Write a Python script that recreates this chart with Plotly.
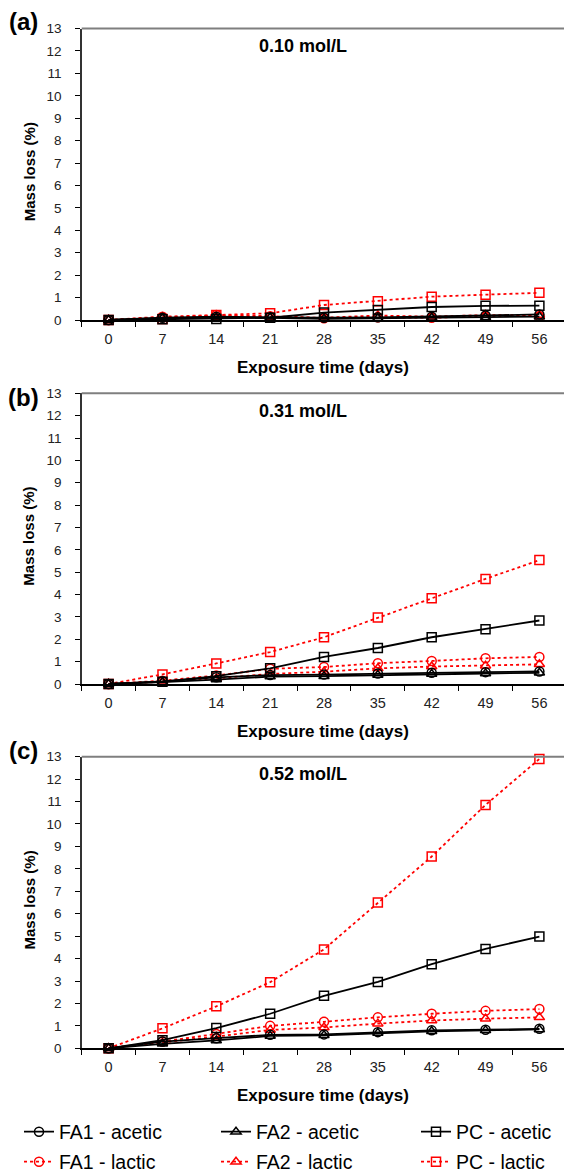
import plotly.graph_objects as go

days = [0, 7, 14, 21, 28, 35, 42, 49, 56]
panels = ["(a)", "(b)", "(c)"]
concentrations = ["0.10 mol/L", "0.31 mol/L", "0.52 mol/L"]
series_names = ["FA1 - acetic", "FA2 - acetic", "PC - acetic",
                "FA1 - lactic", "FA2 - lactic", "PC - lactic"]

# Panel (a) 0.10 mol/L
a_fa1_acetic = [0, 0.10, 0.15, 0.12, 0.10, 0.12, 0.15, 0.20, 0.25]
a_fa2_acetic = [0, 0.08, 0.10, 0.10, 0.05, 0.08, 0.10, 0.12, 0.15]
a_pc_acetic = [0, 0.03, 0.04, 0.10, 0.33, 0.45, 0.58, 0.63, 0.64]
a_fa1_lactic = [0, 0.15, 0.22, 0.17, 0.08, 0.12, 0.10, 0.17, 0.17]
a_fa2_lactic = [0, 0.12, 0.18, 0.15, 0.10, 0.20, 0.15, 0.22, 0.22]
a_pc_lactic = [0, 0.05, 0.22, 0.30, 0.67, 0.84, 1.04, 1.13, 1.21]

# Panel (b) 0.31 mol/L
b_fa1_acetic = [0, 0.12, 0.30, 0.40, 0.42, 0.47, 0.50, 0.53, 0.56]
b_fa2_acetic = [0, 0.08, 0.20, 0.33, 0.35, 0.40, 0.45, 0.47, 0.50]
b_pc_acetic = [0, 0.10, 0.35, 0.70, 1.21, 1.61, 2.09, 2.45, 2.84]
b_fa1_lactic = [0, 0.15, 0.38, 0.68, 0.76, 0.93, 1.03, 1.15, 1.21]
b_fa2_lactic = [0, 0.10, 0.25, 0.45, 0.55, 0.70, 0.78, 0.82, 0.88]
b_pc_lactic = [0, 0.43, 0.92, 1.43, 2.09, 2.97, 3.84, 4.70, 5.54]

# Panel (c) 0.52 mol/L
c_fa1_acetic = [0, 0.30, 0.45, 0.60, 0.62, 0.72, 0.80, 0.83, 0.87]
c_fa2_acetic = [0, 0.20, 0.35, 0.55, 0.58, 0.68, 0.76, 0.80, 0.84]
c_pc_acetic = [0, 0.36, 0.90, 1.54, 2.34, 2.96, 3.75, 4.43, 4.98]
c_fa1_lactic = [0, 0.30, 0.64, 1.00, 1.18, 1.38, 1.54, 1.67, 1.75]
c_fa2_lactic = [0, 0.25, 0.52, 0.82, 0.93, 1.10, 1.24, 1.32, 1.38]
c_pc_lactic = [0, 0.89, 1.87, 2.95, 4.41, 6.50, 8.55, 10.85, 12.90]

panel_data = [
    [a_fa1_acetic, a_fa2_acetic, a_pc_acetic, a_fa1_lactic, a_fa2_lactic, a_pc_lactic],
    [b_fa1_acetic, b_fa2_acetic, b_pc_acetic, b_fa1_lactic, b_fa2_lactic, b_pc_lactic],
    [c_fa1_acetic, c_fa2_acetic, c_pc_acetic, c_fa1_lactic, c_fa2_lactic, c_pc_lactic],
]

symbols = ["circle-open", "triangle-up-open", "square-open"] * 2
colors = ["black"] * 3 + ["#ff0000"] * 3
dashes = ["solid"] * 3 + ["dot"] * 3

W, H = 564, 1176
FONT = "Liberation Sans, Arial, sans-serif"
boxes = [(28.5, 320.0), (393.3, 684.0), (756.7, 1048.3)]
label_dy = [-7, 4, -6]
x_left = 81.7

legend_ids = ["legend", "legend2", "legend3", "legend4", "legend5", "legend6"]
legend_x = [19, 216, 416, 19, 216, 416]
legend_y = [1132, 1132, 1132, 1162, 1162, 1162]

fig = go.Figure()

for p in range(3):
    xa = "x" if p == 0 else f"x{p+1}"
    ya = "y" if p == 0 else f"y{p+1}"
    order = [3, 4, 5, 0, 1, 2]
    for i in order:
        fig.add_trace(go.Scatter(
            x=days, y=panel_data[p][i], name=series_names[i],
            mode="lines+markers",
            line=dict(color=colors[i], width=1.8, dash=dashes[i]),
            marker=dict(symbol=symbols[i], size=9,
                        color=colors[i], line=dict(width=1.5, color=colors[i])),
            xaxis=xa, yaxis=ya, cliponaxis=False,
            showlegend=(p == 0), legend=legend_ids[i],
        ))

layout = dict(
    width=W, height=H,
    margin=dict(l=0, r=0, t=0, b=0, autoexpand=False),
    paper_bgcolor="white", plot_bgcolor="white",
    font=dict(family=FONT, color="black"),
    showlegend=True,
)

annotations = []
shapes = []
for p in range(3):
    top, bot = boxes[p]
    suffix = "" if p == 0 else str(p + 1)
    dom_y = [1 - bot / H, 1 - top / H]
    layout["xaxis" + suffix] = dict(
        domain=[x_left / W, 1.0], range=[-3.5, 59.2],
        anchor="y" + suffix,
        tickvals=days, ticktext=[str(d) for d in days],
        ticks="", showgrid=False, zeroline=False,
        showline=True, linecolor="black", linewidth=1.5,
        tickfont=dict(size=14.5, family=FONT, color="#222222"),
        ticklabelstandoff=5,
        minor=dict(tickvals=[-3.5 + 7 * k for k in range(10)], ticks="outside",
                   ticklen=5, tickcolor="black", tickwidth=1, showgrid=False),
    )
    layout["yaxis" + suffix] = dict(
        domain=dom_y, range=[0, 13], anchor="x" + suffix,
        tickvals=list(range(0, 14)), ticks="outside", ticklen=4.5,
        tickcolor="black", tickwidth=1,
        showgrid=False, zeroline=False,
        showline=True, linecolor="#333333", linewidth=2,
        tickfont=dict(size=13.5, family=FONT, color="#222222"),
        ticklabelstandoff=11,
    )
    shapes.append(dict(type="line", xref="paper", yref="paper",
                       x0=x_left / W, x1=1.0, y0=1 - top / H, y1=1 - top / H,
                       line=dict(color="#7f7f7f", width=2)))
    annotations.append(dict(text="<b>" + panels[p] + "</b>", xref="paper", yref="paper",
                            x=23 / W, y=1 - (top + label_dy[p]) / H, showarrow=False,
                            font=dict(size=24, family=FONT, color="black"),
                            xanchor="center", yanchor="middle"))
    annotations.append(dict(text="<b>" + concentrations[p] + "</b>", xref="paper", yref="paper",
                            x=303 / W, y=1 - (top + 17.5) / H, showarrow=False,
                            font=dict(size=18, family=FONT, color="black"),
                            xanchor="center", yanchor="middle"))
    annotations.append(dict(text="<b>Exposure time (days)</b>", xref="paper", yref="paper",
                            x=323 / W, y=1 - (bot + 47) / H, showarrow=False,
                            font=dict(size=17, family=FONT, color="black"),
                            xanchor="center", yanchor="middle"))
    annotations.append(dict(text="<b>Mass loss (%)</b>", xref="paper", yref="paper",
                            x=29 / W, y=1 - ((top + bot) / 2 - 2) / H, showarrow=False,
                            textangle=-90,
                            font=dict(size=15, family=FONT, color="black"),
                            xanchor="center", yanchor="middle"))

layout["annotations"] = annotations
layout["shapes"] = shapes
for k, lid in enumerate(legend_ids):
    layout[lid] = dict(orientation="h", xref="paper", yref="paper",
                       xanchor="left", yanchor="middle",
                       x=legend_x[k] / W, y=1 - legend_y[k] / H,
                       font=dict(size=19.5, family=FONT, color="black"),
                       bgcolor="rgba(0,0,0,0)", itemwidth=30)

fig.update_layout(**layout)
fig.write_html("out.html", config={"displayModeBar": False},
               post_script="document.documentElement.style.margin='0';document.body.style.margin='0';document.body.style.padding='0';document.body.style.overflow='hidden';")
